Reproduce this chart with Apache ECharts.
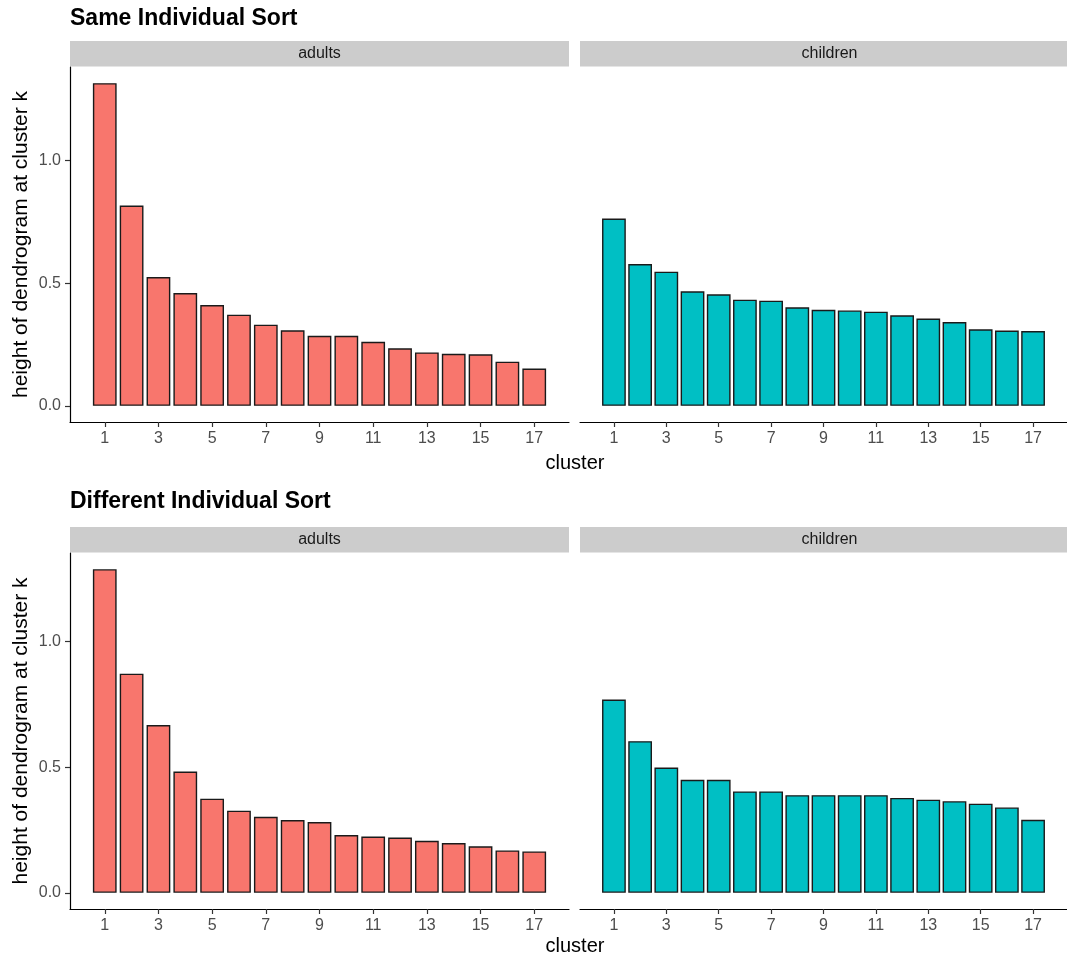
<!DOCTYPE html>
<html>
<head>
<meta charset="utf-8">
<script src="https://cdn.jsdelivr.net/npm/echarts@6/dist/echarts.min.js"></script>
<style>
html,body{margin:0;padding:0;background:#fff;}
#chart{width:1067px;height:959px;}
</style>
</head>
<body>
<div id="chart"></div>
<script>
// ---- data ----
const clusters = [1,2,3,4,5,6,7,8,9,10,11,12,13,14,15,16,17];
const xTickLabels = [1,3,5,7,9,11,13,15,17];
const yTickValues = [0, 0.5, 1.0];
const facets = ['adults', 'children'];
const panelTitles = ['Same Individual Sort', 'Different Individual Sort'];

const sameAdults = [1.316,0.817,0.525,0.460,0.411,0.372,0.331,0.308,0.286,0.286,0.261,0.235,0.218,0.212,0.210,0.180,0.152];
const sameChildren = [0.764,0.578,0.547,0.467,0.455,0.433,0.429,0.402,0.392,0.389,0.384,0.369,0.356,0.342,0.312,0.307,0.305];
const diffAdults = [1.289,0.873,0.668,0.483,0.375,0.327,0.303,0.290,0.282,0.230,0.224,0.220,0.207,0.198,0.185,0.169,0.165];
const diffChildren = [0.770,0.604,0.499,0.450,0.450,0.404,0.404,0.389,0.389,0.389,0.389,0.378,0.371,0.365,0.355,0.340,0.291];

// ---- layout / style ----
const FONT = 'Liberation Sans, Arial, Helvetica, sans-serif';
const colors = ['#F8766D', '#00BFC4'];
const panelW = 499;
const lefts = [70, 580];
const rows = [
  {titleY: 19, stripTop: 41, top: 67, height: 355, xTitleY: 463, data: [sameAdults, sameChildren]},
  {titleY: 502, stripTop: 527, top: 553, height: 356, xTitleY: 946, data: [diffAdults, diffChildren]}
];

// x scale: bars of width 0.9, expanded by 5%
const barFrac = 0.9;
const xLo = clusters[0] - barFrac/2, xHi = clusters[clusters.length-1] + barFrac/2;
const xPad = (xHi - xLo) * 0.05;
const xMin = xLo - xPad, xMax = xHi + xPad;
const unitPx = panelW / (xMax - xMin);

const grids = [], xAxes = [], yAxes = [], series = [], graphics = [];
rows.forEach((row, r) => {
  const rowMax = Math.max(...row.data[0], ...row.data[1]);
  const yMin = -0.05 * rowMax, yMax = rowMax * 1.05;
  facets.forEach((f, c) => {
    const gi = grids.length;
    grids.push({left: lefts[c], top: row.top, width: panelW, height: row.height, containLabel: false});
    xAxes.push({
      type: 'value', gridIndex: gi, min: xMin, max: xMax,
      axisLine: {show: true, onZero: false, lineStyle: {color: '#000', width: 1.2}},
      axisTick: {show: true, length: 5, customValues: xTickLabels, lineStyle: {color: '#333', width: 1.2}},
      axisLabel: {show: true, customValues: xTickLabels, margin: 9, color: '#4D4D4D', fontSize: 16, fontFamily: FONT},
      splitLine: {show: false}
    });
    yAxes.push({
      type: 'value', gridIndex: gi, min: yMin, max: yMax,
      show: c === 0,
      axisLine: {show: true, onZero: false, lineStyle: {color: '#000', width: 1.2}},
      axisTick: {show: true, length: 5, customValues: yTickValues, lineStyle: {color: '#333', width: 1.2}},
      axisLabel: {show: true, customValues: yTickValues, margin: 9, color: '#4D4D4D', fontSize: 16, fontFamily: FONT,
        formatter: v => v.toFixed(1)},
      splitLine: {show: false}
    });
    series.push({
      type: 'bar', xAxisIndex: gi, yAxisIndex: gi,
      data: clusters.map((k, i) => [k, row.data[c][i]]),
      barWidth: barFrac * unitPx - 0.4,
      itemStyle: {color: colors[c], borderColor: '#1a1a1a', borderWidth: 1.4},
      silent: true, animation: false
    });
    // strip
    graphics.push({type: 'rect', shape: {x: lefts[c], y: row.stripTop, width: panelW, height: row.top - row.stripTop - 0.5},
      style: {fill: '#CCCCCC'}, silent: true});
    graphics.push({type: 'text', x: lefts[c] + panelW/2, y: row.stripTop + (row.top - row.stripTop)/2,
      style: {text: f, fill: '#1A1A1A', font: '16px ' + FONT, align: 'center', verticalAlign: 'middle'}, silent: true});
  });
  // panel title
  graphics.push({type: 'text', x: 70, y: row.titleY,
    style: {text: panelTitles[r], fill: '#000', font: 'bold 23px ' + FONT, align: 'left', verticalAlign: 'middle'}, silent: true});
  // y title
  graphics.push({type: 'text', x: 21, y: row.top + row.height/2, rotation: Math.PI/2,
    style: {text: 'height of dendrogram at cluster k', fill: '#000', font: '21px ' + FONT, align: 'center', verticalAlign: 'middle'}, silent: true});
  // x title
  graphics.push({type: 'text', x: 575, y: row.xTitleY,
    style: {text: 'cluster', fill: '#000', font: '20px ' + FONT, align: 'center', verticalAlign: 'middle'}, silent: true});
});

const chart = echarts.init(document.getElementById('chart'), null, {renderer: 'canvas'});
chart.setOption({
  animation: false,
  backgroundColor: '#fff',
  grid: grids, xAxis: xAxes, yAxis: yAxes, series: series,
  graphic: graphics
});
</script>
</body>
</html>
